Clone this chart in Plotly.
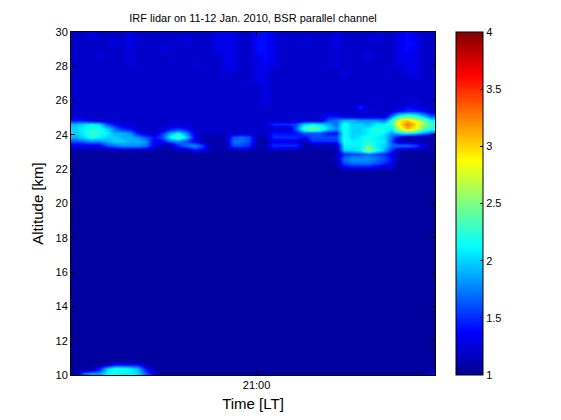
import plotly.graph_objects as go

# ---- data ----
TIME_START = 18.96      # hours LT, left edge of first profile
TIME_STEP = 0.087       # hours between profiles (one column per step)
ALT_START = 10.0        # km, bottom edge of first range bin
ALT_STEP = 0.25         # km per range bin
BSR_MIN, BSR_MAX = 1, 4

x_tick_vals = [21]
x_tick_text = ["21:00"]
y_tick_vals = [10, 12, 14, 16, 18, 20, 22, 24, 26, 28, 30]
cbar_tick_vals = [1, 1.5, 2, 2.5, 3, 3.5, 4]
cbar_tick_text = ["1", "1.5", "2", "2.5", "3", "3.5", "4"]

# BSR level code: '.'=1.05, '0'=1.0, '1'=1.1 ... '9'=1.9, 'a'=2.0 ... 'u'=4.0
LEVELS = "0123456789abcdefghijklmnopqrstu"
SPECIAL_LEVELS = {".": 1.05}

# rows listed from 30 km (top) down to 10 km (bottom), 46 profiles each
bsr_rows_top_down = [
    "2232222322 2222222233 3224432222 2223222222 234322",
    "2222222322 2222322233 3224432222 2223222232 234322",
    "2222232322 2222222233 3224432223 2223222222 234422",
    "2222222322 2322222233 3224432222 2223222222 234322",
    "2222222222 2222222233 3224432222 2222222222 234322",
    "2223222322 2222222223 3223432222 2223222322 233322",
    "2222222222 2222222223 3223432222 2222222222 233322",
    "2222222322 2222232223 3223332222 2223222222 233322",
    "2222222222 2222222223 3223322222 2222222222 223322",
    "2222222222 2222222222 2223322222 2222322222 223322",
    "2222222222 2222222222 2223322222 2222222222 222322",
    "2222222222 2222222222 2223322222 2222222222 222222",
    "2222222222 2222222222 2222322222 2222222222 222222",
    "2222222222 2222222222 2222322222 2222222222 222222",
    "2222222222 2222222222 2222322222 2222222222 222222",
    "2222222222 2222222222 2222322222 2222222222 222222",
    "2222222222 2222222222 2222322222 2222222222 222322",
    "2222222222 2222222222 2222222222 2222225222 224322",
    "2222222222 2222222222 2222222222 2222222322 245542",
    "2222222222 2222222222 2222222222 2244222222 7bdc96",
    "4422222222 2222222222 2222222222 2267998887 cjkifb",
    "9aba642222 2222222222 222225556a ba97caa9bb djnkgd",
    "abcca75422 2245422222 222222227d fda8caabcc bhljec",
    "abdcb99842 259b832222 2222244446 6644caabcb 8aba86",
    "9acbaa9986 46bea41111 6761155554 6666cabcba 731111",
    "67889aa998 3478631111 7761133331 5555cbbcbb 611111",
    "3333678887 3115786111 6651155551 1111bbbeba 777631",
    "1111111111 1111143111 1111111111 1111aabgc9 511111",
    ".......... .......... .......... ....566765 3.....",
    ".......... .......... .......... ...2788876 4.....",
    ".......... .......... .......... ....677765 3.....",
    ".......... .......... .......... ....344432 2.....",
    ".......... .......... .......... .......... ......",
    ".......... .......... .......... .......... ......",
    ".......... .......... .......... .......... ......",
    ".......... .......... .......... .......... ......",
    ".......... .......... .......... .......... ......",
    ".......... .......... .......... .......... ......",
    ".......... .......... .......... .......... ......",
    ".......... .......... .......... .......... ......",
    ".......... .......... .......... .......... ......",
    ".......... .......... .......... .......... ......",
    ".......... .......... .......... .......... ......",
    ".......... .......... .......... .......... ......",
    ".......... .......... .......... .......... ......",
    ".......... .......... .......... .......... ......",
    ".......... .......... .......... .......... ......",
    ".......... .......... .......... .......... ......",
    ".......... .......... .......... .......... ......",
    ".......... .......... .......... .......... ......",
    ".......... .......... .......... .......... ......",
    ".......... .......... .......... .......... ......",
    ".......... .......... .......... .......... ......",
    ".......... .......... .......... .......... ......",
    ".......... .......... .......... .......... ......",
    ".......... .......... .......... .......... ......",
    ".......... .......... .......... .......... ......",
    ".......... .......... .......... .......... ......",
    ".......... .......... .......... .......... ......",
    ".......... .......... .......... .......... ......",
    ".......... .......... .......... .......... ......",
    ".......... .......... .......... .......... ......",
    ".......... .......... .......... .......... ......",
    ".......... .......... .......... .......... ......",
    ".......... .......... .......... .......... ......",
    ".......... .......... .......... .......... ......",
    ".......... .......... .......... .......... ......",
    ".......... .......... .......... .......... ......",
    ".......... .......... .......... .......... ......",
    ".......... .......... .......... .......... ......",
    ".......... .......... .......... .......... ......",
    ".......... .......... .......... .......... ......",
    ".......... .......... .......... .......... ......",
    ".......... .......... .......... .......... ......",
    ".......... .......... .......... .......... ......",
    ".......... .......... .......... .......... ......",
    ".......... .......... .......... .......... ......",
    ".....3333. .......... .......... .......... ......",
    "...4accb94 .......... .......... .......... ......",
    ".688bcbba6 3......... .......... .......... .....3",
]

N_COLS = 46


def level(ch):
    if ch in SPECIAL_LEVELS:
        return SPECIAL_LEVELS[ch]
    return 1.0 + 0.1 * LEVELS.index(ch)


def decode(row):
    s = row.replace(" ", "")
    s = (s + "." * N_COLS)[:N_COLS]
    return [level(ch) for ch in s]


z = [decode(r) for r in reversed(bsr_rows_top_down)]
n_rows = len(z)

# MATLAB "jet" colormap
jet = [
    [0.0, "rgb(0,0,143)"],
    [0.125, "rgb(0,0,255)"],
    [0.375, "rgb(0,255,255)"],
    [0.625, "rgb(255,255,0)"],
    [0.875, "rgb(255,0,0)"],
    [1.0, "rgb(128,0,0)"],
]

FONT = "Liberation Sans, Arial, Helvetica, sans-serif"

# the page body adds an 8 px margin, so the figure is 8 px smaller each way
FIG_W, FIG_H = 553, 412

fig = go.Figure(
    go.Heatmap(
        z=z,
        x0=TIME_START + TIME_STEP / 2,
        dx=TIME_STEP,
        y0=ALT_START + ALT_STEP / 2,
        dy=ALT_STEP,
        zmin=BSR_MIN,
        zmax=BSR_MAX,
        colorscale=jet,
        zsmooth="best",
        hoverinfo="skip",
        colorbar=dict(
            x=1.059,
            xanchor="left",
            y=0.5,
            yanchor="middle",
            len=1.0,
            lenmode="fraction",
            thickness=27,
            thicknessmode="pixels",
            xpad=0,
            ypad=0,
            outlinewidth=1,
            outlinecolor="black",
            ticks="inside",
            ticklen=3,
            tickcolor="black",
            tickvals=cbar_tick_vals,
            ticktext=cbar_tick_text,
            tickfont=dict(family=FONT, size=11, color="black"),
        ),
    )
)

x_end = TIME_START + TIME_STEP * N_COLS
y_end = ALT_START + ALT_STEP * n_rows

fig.update_layout(
    width=FIG_W,
    height=FIG_H,
    margin=dict(l=63, r=126, t=24, b=45, autoexpand=False),
    paper_bgcolor="white",
    plot_bgcolor="white",
    font=dict(family=FONT, size=11, color="black"),
    title=dict(
        text="IRF lidar on 11-12 Jan. 2010, BSR parallel channel",
        x=0.5,
        xref="paper",
        xanchor="center",
        y=1 - 10 / FIG_H,
        yref="container",
        yanchor="middle",
        font=dict(family=FONT, size=11, color="black"),
    ),
    xaxis=dict(
        range=[TIME_START, x_end],
        tickvals=x_tick_vals,
        ticktext=x_tick_text,
        ticks="inside",
        ticklen=4,
        tickcolor="black",
        showline=True,
        linecolor="black",
        linewidth=1,
        mirror="ticks",
        showgrid=False,
        zeroline=False,
        automargin=False,
        tickfont=dict(family=FONT, size=11, color="black"),
        title=dict(text="Time [LT]", font=dict(family=FONT, size=15, color="black"), standoff=8),
    ),
    yaxis=dict(
        range=[ALT_START, y_end],
        tickvals=y_tick_vals,
        ticks="inside",
        ticklen=4,
        tickcolor="black",
        showline=True,
        linecolor="black",
        linewidth=1,
        mirror="ticks",
        showgrid=False,
        zeroline=False,
        automargin=False,
        tickfont=dict(family=FONT, size=11, color="black"),
        title=dict(text="Altitude [km]", font=dict(family=FONT, size=15, color="black"), standoff=8),
    ),
)

fig.write_html("out.html")
